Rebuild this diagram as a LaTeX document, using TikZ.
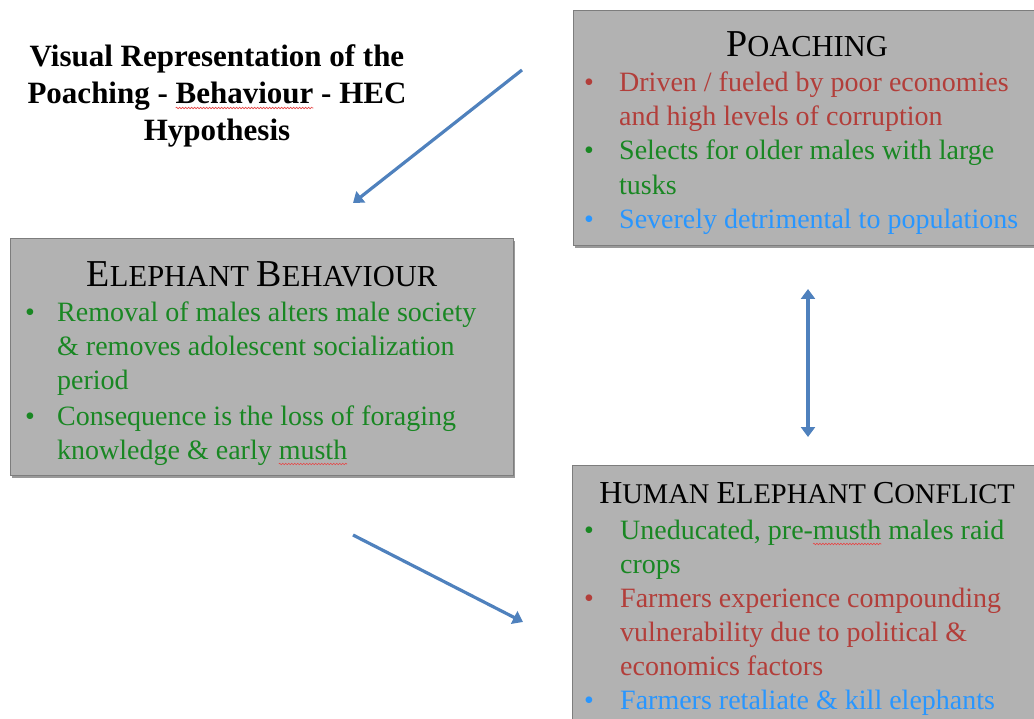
\documentclass[tikz,border=0pt]{standalone}
\usepackage{fontspec}
\setmainfont{Liberation Serif}
\usetikzlibrary{arrows.meta,shadows,decorations.pathmorphing}
\definecolor{boxgray}{RGB}{178,178,178}
\definecolor{boxline}{RGB}{125,125,125}
\definecolor{tred}{RGB}{178,62,58}
\definecolor{tgreen}{RGB}{25,135,35}
\definecolor{tblue}{RGB}{40,150,255}
\definecolor{arrowblue}{RGB}{79,129,189}
\definecolor{squigred}{RGB}{230,70,70}
\newlength\sqlen
\newcommand\squig[2][5pt]{\settowidth\sqlen{#2}\rlap{\tikz[overlay]\draw[squigred,line width=.6pt,decorate,decoration={snake,amplitude=.8pt,segment length=3pt}](0pt,-#1)--(\sqlen,-#1);}#2}
\newcommand\bsc[2]{{\fontsize{38}{40}\selectfont #1}{\fontsize{30.5}{40}\selectfont #2}}
\newcommand\hsc[2]{{\fontsize{32}{36}\selectfont #1}{\fontsize{28.5}{36}\selectfont #2}}
\begin{document}
\begin{tikzpicture}[x=1pt,y=-1pt,
  box/.style={draw=boxline,line width=.6pt,fill=boxgray,anchor=north west,inner sep=0pt,
    drop shadow={shadow xshift=2pt,shadow yshift=-3pt,opacity=.4,fill=black}},
  ttl/.style={anchor=base,inner sep=0pt,text=black},
  maintitle/.style={anchor=base,inner sep=0pt,font=\fontsize{31}{37}\selectfont\bfseries},
  body/.style={anchor=base west,inner sep=0pt,font=\fontsize{28}{34}\selectfont},
  bul/.style={anchor=base,inner sep=0pt,font=\fontsize{28}{34}\selectfont},
  conn/.style={draw=arrowblue,line width=3.2pt,-{Triangle[width=14pt,length=10pt]}},
  dconn/.style={draw=arrowblue,line width=3.2pt,{Triangle[width=14pt,length=10pt]}-{Triangle[width=14pt,length=10pt]}}
]
\useasboundingbox (0,0) rectangle (1034,719);
\begin{scope}
\clip (0,0) rectangle (1034,719);
% boxes
\node[box,minimum width=490pt,minimum height=235pt] (poach) at (573,10) {};
\node[box,minimum width=503pt,minimum height=237pt] (beh) at (10,238) {};
\node[box,minimum width=490pt,minimum height=280pt] (hec) at (572,465) {};
\end{scope}

% main title
\node[maintitle] (t1) at (217,67) {Visual Representation of the};
\node[maintitle] (t2) at (217,104) {Poaching - \squig[4pt]{Behaviour} - HEC};
\node[maintitle] (t3) at (217,141) {Hypothesis};

% Poaching
\node[ttl] (pt) at (807,57) {\bsc{P}{OACHING}};
\node[bul,text=tred] (pb1) at (589,92) {•};
\node[bul,text=tgreen] (pb2) at (589,160) {•};
\node[bul,text=tblue] (pb3) at (589,229) {•};
\node[body,text=tred] (pl1) at (619,92) {Driven / fueled by poor economies};
\node[body,text=tred] (pl2) at (619,126) {and high levels of corruption};
\node[body,text=tgreen] (pl3) at (619,160) {Selects for older males with large};
\node[body,text=tgreen] (pl4) at (619,195) {tusks};
\node[body,text=tblue] (pl5) at (619,229) {Severely detrimental to populations};

% Elephant behaviour
\node[ttl,font=\fontsize{30.5}{40}\selectfont] (bt) at (262,287) {\bsc{E}{LEPHANT} \bsc{B}{EHAVIOUR}};
\node[bul,text=tgreen] (bb1) at (30,322) {•};
\node[bul,text=tgreen] (bb2) at (30,425) {•};
\node[body,text=tgreen] (bl1) at (57,322) {Removal of males alters male society};
\node[body,text=tgreen] (bl2) at (57,356) {\& removes adolescent socialization};
\node[body,text=tgreen] (bl3) at (57,390) {period};
\node[body,text=tgreen] (bl4) at (57,425) {Consequence is the loss of foraging};
\node[body,text=tgreen] (bl5) at (57,459) {knowledge \& early \squig{musth}};

% HEC
\node[ttl,font=\fontsize{28.5}{36}\selectfont] (ht) at (807,503) {\hsc{H}{UMAN} \hsc{E}{LEPHANT} \hsc{C}{ONFLICT}};
\node[bul,text=tgreen] (hb1) at (589,539) {•};
\node[bul,text=tred] (hb2) at (589,607) {•};
\node[bul,text=tblue] (hb3) at (589,709) {•};
\node[body,text=tgreen] (hl1) at (620,539) {Uneducated, pre-\squig{musth} males raid};
\node[body,text=tgreen] (hl2) at (620,573) {crops};
\node[body,text=tred] (hl3) at (620,607) {Farmers experience compounding};
\node[body,text=tred] (hl4) at (620,641) {vulnerability due to political \&};
\node[body,text=tred] (hl5) at (620,675) {economics factors};
\node[body,text=tblue] (hl6) at (620,709) {Farmers retaliate \& kill elephants};

% connectors
\coordinate (a1s) at (522,70);
\coordinate (a1e) at (353,203);
\coordinate (a2t) at (808,289);
\coordinate (a2b) at (808,437);
\coordinate (a3s) at (353,535);
\coordinate (a3e) at (523,622);
\draw[conn] (a1s) -- (a1e);
\draw[dconn] (a2t) -- (a2b);
\draw[conn] (a3s) -- (a3e);
\end{tikzpicture}
\end{document}
